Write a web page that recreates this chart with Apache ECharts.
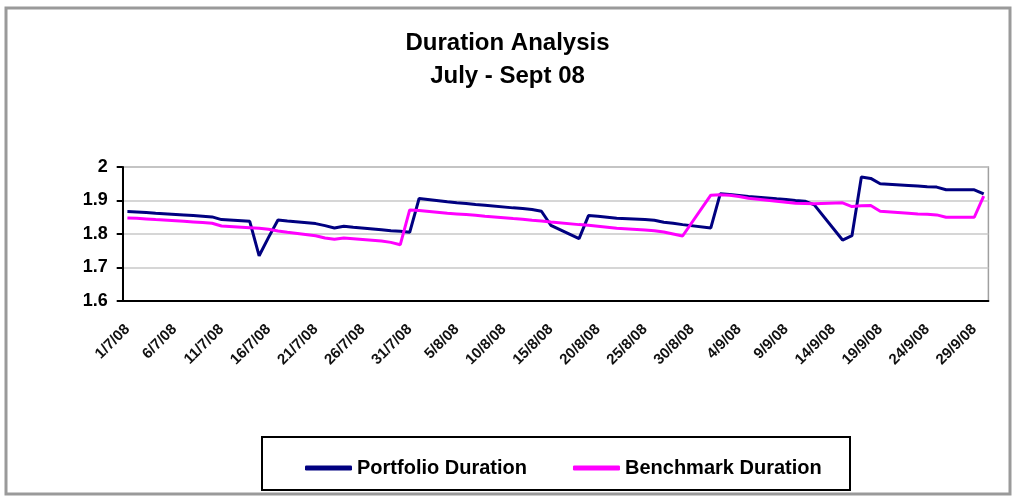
<!DOCTYPE html>
<html>
<head>
<meta charset="utf-8">
<script src="https://cdn.jsdelivr.net/npm/echarts@6/dist/echarts.min.js"></script>
<style>
html,body{margin:0;padding:0;background:#fff;}
#chart{width:1015px;height:496px;}
</style>
</head>
<body>
<div id="chart"></div>
<script>
// Daily categories, 1 July - 30 September 2008
var categories = [
 "1/7/08","2/7/08","3/7/08","4/7/08","5/7/08","6/7/08","7/7/08","8/7/08","9/7/08","10/7/08",
 "11/7/08","12/7/08","13/7/08","14/7/08","15/7/08","16/7/08","17/7/08","18/7/08","19/7/08","20/7/08",
 "21/7/08","22/7/08","23/7/08","24/7/08","25/7/08","26/7/08","27/7/08","28/7/08","29/7/08","30/7/08","31/7/08",
 "1/8/08","2/8/08","3/8/08","4/8/08","5/8/08","6/8/08","7/8/08","8/8/08","9/8/08","10/8/08",
 "11/8/08","12/8/08","13/8/08","14/8/08","15/8/08","16/8/08","17/8/08","18/8/08","19/8/08","20/8/08",
 "21/8/08","22/8/08","23/8/08","24/8/08","25/8/08","26/8/08","27/8/08","28/8/08","29/8/08","30/8/08","31/8/08",
 "1/9/08","2/9/08","3/9/08","4/9/08","5/9/08","6/9/08","7/9/08","8/9/08","9/9/08","10/9/08",
 "11/9/08","12/9/08","13/9/08","14/9/08","15/9/08","16/9/08","17/9/08","18/9/08","19/9/08","20/9/08",
 "21/9/08","22/9/08","23/9/08","24/9/08","25/9/08","26/9/08","27/9/08","28/9/08","29/9/08","30/9/08"
];

// Portfolio duration (null = weekend, no observation)
var portfolioJul = [1.867,1.866,1.864,1.862,null,null,1.857,1.855,1.853,1.851,
                    1.843,null,null,1.838,1.735,1.790,1.842,1.839,null,null,
                    1.831,1.825,1.818,1.823,1.820,null,null,1.813,1.810,1.808,1.805];
var portfolioAug = [1.906,null,null,1.896,1.893,1.891,1.888,1.886,null,null,
                    1.878,1.876,1.873,1.868,1.826,null,null,1.786,1.855,1.853,
                    1.850,1.847,null,null,1.843,1.841,1.835,1.832,1.828,null,null];
var portfolioSep = [1.818,1.920,1.918,1.915,1.912,null,null,1.905,1.903,1.900,
                    1.898,1.887,null,null,1.782,1.795,1.970,1.966,1.950,null,
                    null,1.945,1.943,1.941,1.940,1.932,null,null,1.932,1.920];

// Benchmark duration
var benchmarkJul = [1.848,1.847,1.845,1.843,null,null,1.838,1.836,1.834,1.832,
                    1.824,null,null,1.819,1.817,1.814,1.809,1.805,null,null,
                    1.795,1.788,1.784,1.788,1.786,null,null,1.779,1.775,1.768,1.872];
var benchmarkAug = [1.870,null,null,1.862,1.860,1.858,1.856,1.853,null,null,
                    1.846,1.844,1.841,1.839,1.836,null,null,1.828,1.826,1.823,
                    1.820,1.817,null,null,1.812,1.810,1.806,1.800,1.794,null,null];
var benchmarkSep = [1.916,1.917,1.916,1.912,1.907,null,null,1.898,1.895,1.892,
                    1.891,1.890,null,null,1.893,1.882,1.884,1.885,1.868,null,
                    null,1.862,1.860,1.859,1.857,1.850,null,null,1.850,1.913];

var portfolio = portfolioJul.concat(portfolioAug, portfolioSep);
var benchmark = benchmarkJul.concat(benchmarkAug, benchmarkSep);

var titleLines = ["Duration Analysis", "July - Sept 08"];
var seriesNames = ["Portfolio Duration", "Benchmark Duration"];
var yTicks = {min: 1.6, max: 2.0, interval: 0.1};

var FONT = "'Liberation Sans Narrow','Liberation Sans','DejaVu Sans',sans-serif";

var chart = echarts.init(document.getElementById('chart'), null, {renderer: 'canvas'});
chart.setOption({
  backgroundColor: '#ffffff',
  animation: false,
  title: {
    text: titleLines.join('\n'),
    left: 'center',
    top: 22,
    textStyle: {fontFamily: FONT, fontWeight: 'bold', fontSize: 24, color: '#000', lineHeight: 33}
  },
  graphic: [
    {type: 'rect', silent: true, z: -1,
     shape: {x: 6, y: 8, width: 1004, height: 486},
     style: {fill: 'none', stroke: '#9a9a9a', lineWidth: 3}},
    {type: 'rect', silent: true,
     shape: {x: 262, y: 437, width: 588, height: 53},
     style: {fill: 'none', stroke: '#000', lineWidth: 2}}
  ],
  legend: {
    left: 300, top: 453,
    itemWidth: 47, itemHeight: 5, itemGap: 46,
    icon: 'roundRect',
    textStyle: {fontFamily: FONT, fontWeight: 'bold', fontSize: 20, color: '#000'},
    data: seriesNames
  },
  grid: {left: 122.7, right: 26.6, top: 167, bottom: 195, show: true, borderColor: '#a0a0a0', borderWidth: 1.5},
  xAxis: {
    type: 'category',
    data: categories,
    boundaryGap: true,
    axisLine: {lineStyle: {color: '#000', width: 2}},
    axisTick: {interval: 4, length: 5, lineStyle: {color: '#000', width: 2}},
    axisLabel: {interval: 4, rotate: 45, margin: 26, fontFamily: FONT, fontWeight: 'bold', fontSize: 15, color: '#111'},
    splitLine: {show: false}
  },
  yAxis: {
    type: 'value',
    min: yTicks.min, max: yTicks.max, interval: yTicks.interval,
    axisLine: {show: true, lineStyle: {color: '#000', width: 2}},
    axisTick: {show: true, length: 6, lineStyle: {color: '#000', width: 2}},
    axisLabel: {margin: 15, fontFamily: FONT, fontWeight: 'bold', fontSize: 18, color: '#000'},
    splitLine: {lineStyle: {color: '#c8c8c8', width: 1.5}}
  },
  series: [
    {name: seriesNames[0], type: 'line', data: portfolio, connectNulls: true, showSymbol: false, symbol: 'none',
     lineStyle: {color: '#000080', width: 3}, itemStyle: {color: '#000080'}},
    {name: seriesNames[1], type: 'line', data: benchmark, connectNulls: true, showSymbol: false, symbol: 'none',
     lineStyle: {color: '#ff00ff', width: 3}, itemStyle: {color: '#ff00ff'}}
  ]
});
</script>
</body>
</html>
